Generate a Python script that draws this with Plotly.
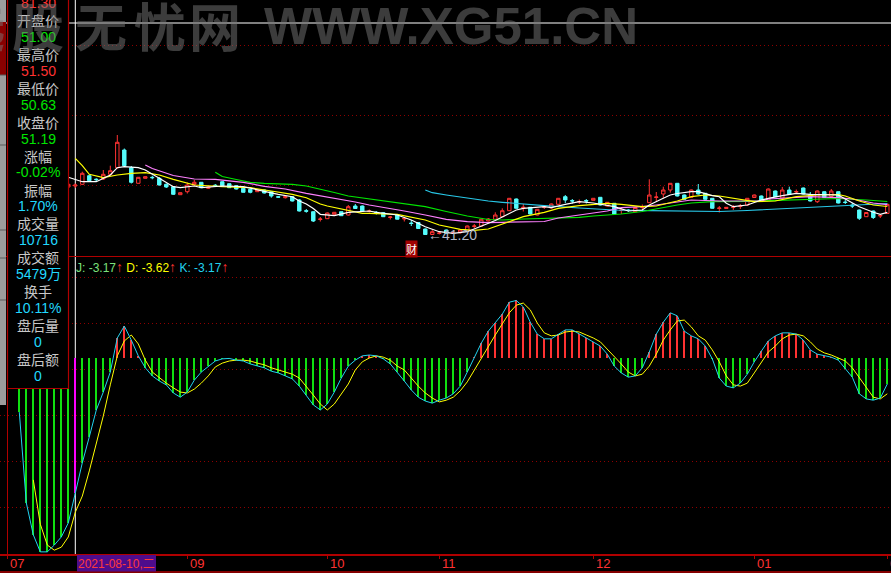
import plotly.graph_objects as go

W, H = 891, 573

def px(x):
    return x / W

def py(y):
    return 1 - y / H

# ---------------- data ----------------
candle_idx = list(range(7, 125))
open_ = [50.8, 51.00, 51.34, 53.06, 52.36, 52.4, 53.34, 54.66, 58.2, 54.66,
         51.54, 52.54, 52.74, 52.54, 51.34, 50.86, 49.26, 49.86, 51.34, 51.74,
         50.54, 51.16, 51.86, 51.46, 51.06, 50.54, 50.34, 49.86, 50.2, 49.86,
         48.86, 48.66, 48.86, 48.2, 46.06, 45.86, 44.3, 44.46, 45.34, 45.86,
         45.2, 47.0, 47.0, 45.9, 45.75, 45.66, 44.7, 45.2, 44.4, 43.6,
         43.7, 42.4, 41.3, 41.5, 42.2, 41.5, 41.66, 42.06, 42.9, 43.0,
         44.0, 44.34, 44.86, 46.06, 48.4, 46.6, 46.74, 45.2, 46.7, 46.6,
         47.34, 48.86, 48.1, 47.8, 48.1, 48.14, 48.74, 47.0, 47.54, 46.1,
         46.2, 45.86, 46.7, 47.66, 48.7, 49.4, 50.2, 51.54, 49.2, 48.74,
         50.2, 49.54, 48.54, 46.5, 46.5, 46.7, 46.9, 47.2, 48.7, 49.0,
         48.2, 50.0, 48.6, 50.2, 49.8, 50.6, 49.2, 47.86, 49.86, 48.9,
         49.86, 47.8, 47.2, 46.2, 44.86, 46.0, 45.0, 45.5]
high_ = [51.5, 51.50, 53.86, 53.3, 52.54, 54.2, 55.06, 61.2, 58.5, 55.0,
         52.8, 52.9, 53.06, 52.8, 51.5, 51.0, 49.7, 51.7, 52.2, 51.8,
         50.9, 51.4, 51.9, 51.5, 51.1, 50.6, 50.4, 50.25, 50.3, 49.9,
         49.0, 49.0, 48.9, 48.4, 46.4, 45.9, 44.8, 45.7, 45.8, 45.9,
         47.2, 47.4, 47.1, 46.3, 46.0, 45.8, 45.0, 45.3, 44.8, 44.2,
         43.8, 42.5, 42.34, 41.9, 42.3, 42.0, 42.3, 43.1, 43.4, 44.4,
         44.6, 45.74, 46.54, 48.6, 48.5, 47.4, 46.8, 46.4, 47.2, 47.5,
         48.6, 49.2, 48.4, 48.3, 48.4, 48.6, 48.8, 47.8, 47.6, 46.6,
         46.4, 46.8, 47.3, 52.34, 49.8, 50.86, 51.6, 51.6, 49.3, 50.3,
         51.4, 49.6, 48.6, 47.0, 46.8, 47.2, 47.4, 48.6, 49.3, 49.1,
         50.5, 50.1, 50.8, 50.86, 50.3, 50.7, 49.8, 50.1, 49.9, 50.4,
         49.9, 48.3, 47.6, 46.3, 45.8, 46.1, 45.4, 47.5]
low_ = [50.6, 50.63, 51.2, 51.9, 51.86, 52.2, 53.06, 54.5, 54.9, 51.5,
        51.5, 52.5, 52.34, 51.1, 50.6, 49.2, 49.2, 49.5, 51.06, 50.6,
        50.4, 50.9, 51.0, 50.6, 50.3, 49.7, 49.54, 49.8, 49.5, 48.66,
        48.6, 48.5, 47.9, 45.9, 45.66, 43.8, 43.9, 44.4, 45.3, 45.0,
        45.1, 46.4, 45.9, 45.7, 45.3, 44.8, 44.3, 44.3, 43.9, 43.0,
        42.4, 41.2, 41.25, 41.3, 41.4, 41.4, 41.5, 42.0, 42.6, 42.9,
        43.9, 44.2, 44.8, 46.0, 46.5, 45.9, 45.3, 45.1, 46.4, 46.5,
        47.3, 47.6, 47.5, 47.4, 47.5, 48.1, 47.1, 46.9, 45.3, 45.4,
        45.8, 45.8, 45.9, 47.6, 47.9, 48.54, 49.66, 48.9, 48.3, 48.7,
        49.3, 48.3, 46.5, 45.7, 46.4, 46.2, 46.4, 47.0, 48.6, 48.0,
        48.1, 48.8, 48.5, 49.2, 49.4, 49.3, 47.9, 47.6, 48.6, 48.8,
        47.5, 47.4, 46.6, 44.2, 44.8, 44.4, 44.6, 45.4]
close_ = [51.34, 51.19, 53.54, 52.06, 52.26, 53.34, 54.06, 59.74, 55.06, 51.74,
          52.74, 52.86, 52.66, 51.2, 50.8, 49.34, 49.66, 51.2, 51.74, 50.66,
          50.8, 51.06, 51.06, 50.66, 50.4, 49.74, 49.74, 50.2, 49.6, 49.0,
          48.76, 48.86, 48.0, 46.0, 45.96, 44.0, 44.4, 45.6, 45.74, 45.06,
          46.86, 46.5, 46.0, 46.0, 45.65, 44.86, 44.8, 44.36, 44.5, 43.5,
          42.5, 41.3, 41.86, 41.6, 41.54, 41.7, 42.2, 43.0, 43.0, 44.34,
          44.4, 45.2, 46.06, 48.54, 46.54, 46.74, 45.4, 46.34, 46.8, 47.4,
          48.54, 48.2, 48.0, 47.9, 48.0, 48.54, 47.2, 47.74, 45.4, 46.2,
          46.1, 46.7, 46.8, 49.2, 48.8, 50.2, 51.54, 49.0, 48.34, 50.2,
          49.4, 48.34, 46.54, 46.6, 46.74, 46.8, 47.0, 48.54, 49.2, 48.1,
          50.4, 48.86, 50.2, 49.3, 49.9, 49.4, 48.0, 50.0, 48.7, 50.0,
          47.6, 47.7, 47.0, 44.54, 45.7, 44.7, 45.1, 47.34]

ma5_idx = [7, 9, 11, 13, 14, 15, 17, 18, 20, 22, 23, 25, 26, 29, 32, 34, 37, 39, 40, 41,
           42, 43, 45, 47, 50, 51, 54, 56, 58, 60, 62, 64, 66, 68, 69, 71, 72, 75, 76, 78,
           80, 82, 85, 87, 89, 90, 92, 93, 94, 96, 97, 99, 100, 101, 102, 104, 106, 107, 109, 111,
           113, 115, 117, 118, 120, 122, 123, 124]
ma5 = [52.74, 51.86, 51.86, 53.2, 54.66, 54.86, 54.66, 54.2, 52.54, 50.86, 50.66, 51.0, 50.66, 51.0, 50.86, 50.2, 49.34, 48.86, 48.0, 47.4,
       46.5, 45.34, 45.06, 45.74, 46.0, 45.74, 45.2, 44.2, 42.86, 41.86, 41.54, 41.86, 42.9, 44.1, 44.8, 46.2, 46.54, 46.86, 46.66, 47.34,
       47.86, 47.6, 46.86, 46.0, 46.2, 47.2, 48.54, 49.2, 49.5, 49.86, 49.86, 49.06, 48.86, 47.54, 46.86, 47.2, 48.2, 48.54, 49.06, 49.54,
       49.34, 49.2, 49.2, 48.4, 46.86, 45.74, 45.34, 45.74]

ma10_idx = [8, 9, 10, 12, 14, 16, 18, 20, 22, 25, 29, 33, 36, 39, 41, 43, 44, 47, 49, 50,
            54, 58, 60, 63, 65, 67, 69, 72, 75, 77, 80, 84, 86, 89, 91, 94, 96, 98, 100, 102,
            105, 108, 111, 114, 117, 118, 120, 122, 124]
ma10 = [56.54, 55.06, 53.34, 52.66, 53.2, 53.54, 53.66, 53.2, 52.34, 51.2, 50.86, 50.66, 50.0, 49.34, 48.66, 47.4, 47.0, 46.2, 45.54, 45.54,
        45.34, 44.2, 43.2, 42.34, 42.14, 42.4, 43.4, 44.86, 45.74, 46.54, 47.06, 47.54, 47.34, 46.86, 47.0, 48.0, 48.86, 49.2, 49.0, 48.54,
        47.86, 48.0, 48.86, 49.2, 49.3, 49.0, 48.0, 47.2, 46.9]

ma20_idx = [18, 19, 22, 25, 28, 30, 32, 35, 38, 41, 43, 46, 48, 50, 52, 55, 58, 61, 64, 67,
            69, 72, 75, 77, 79, 81, 84, 86, 89, 91, 94, 96, 100, 106, 107, 110, 113, 117, 119, 122, 124]
ma20 = [55.2, 54.5, 53.1, 52.4, 52.34, 52.06, 51.74, 50.94, 50.4, 49.54, 49.06, 48.2, 47.8, 47.2, 46.74, 46.0, 45.2, 44.34, 43.86, 43.66,
        43.74, 43.86, 43.9, 44.6, 45.0, 45.34, 46.0, 46.66, 46.86, 47.2, 47.74, 48.2, 48.0, 48.0, 48.4, 48.66, 48.86, 48.66, 48.4, 47.6, 47.26]

ma30_idx = [28, 29, 31, 33, 35, 39, 41, 43, 45, 47, 50, 52, 55, 58, 61, 64, 67, 69, 72, 75,
            80, 82, 86, 89, 92, 94, 96, 99, 104, 109, 113, 117, 121, 124]
ma30 = [53.74, 52.9, 52.3, 51.74, 51.54, 51.34, 51.0, 50.4, 49.7, 49.0, 48.4, 48.0, 47.54, 46.86, 45.9, 45.0, 44.3, 44.2, 44.4, 44.54,
        44.74, 45.0, 45.4, 45.9, 46.7, 47.2, 47.6, 47.86, 47.94, 48.2, 48.34, 48.5, 48.2, 47.9]

ma60_idx = [58, 59, 61, 64, 67, 69, 72, 75, 80, 85, 90, 95, 100, 104, 108, 112, 116, 119, 122, 124]
ma60 = [50.2, 49.66, 49.2, 48.54, 48.0, 47.74, 47.34, 47.06, 46.6, 46.2, 46.06, 46.0, 45.9, 46.1, 46.4, 46.66, 46.9, 47.2, 47.4, 47.5]

k_idx = list(range(0, 125))
k_vals = [-1.27, -3.40, -4.15, -4.55, -4.55, -4.39, -4.20, -3.87, -3.17, -2.46,
          -1.85, -1.22, -0.80, -0.33, 0.47, 0.75, 0.42, 0.05, -0.23, -0.42,
          -0.54, -0.63, -0.82, -0.92, -0.80, -0.52, -0.33, -0.19, -0.07, -0.02,
          -0.01, -0.05, -0.07, -0.14, -0.19, -0.23, -0.31, -0.35, -0.42, -0.49,
          -0.66, -0.87, -1.10, -1.22, -1.08, -0.80, -0.47, -0.19, -0.05, 0.05,
          0.07, 0.05, -0.02, -0.14, -0.33, -0.54, -0.75, -0.92, -1.01, -1.06,
          -0.99, -0.94, -0.84, -0.66, -0.33, 0.01, 0.35, 0.63, 0.82, 1.03,
          1.31, 1.35, 1.20, 0.84, 0.56, 0.45, 0.45, 0.56, 0.66, 0.66,
          0.56, 0.47, 0.38, 0.28, 0.09, -0.19, -0.35, -0.45, -0.42, -0.23,
          0.14, 0.56, 0.84, 1.06, 0.99, 0.63, 0.52, 0.45, 0.28, -0.02,
          -0.47, -0.66, -0.70, -0.59, -0.38, -0.09, 0.16, 0.40, 0.52, 0.59,
          0.59, 0.56, 0.42, 0.19, 0.09, 0.05, 0.02, -0.05, -0.26, -0.45,
          -0.84, -0.96, -0.99, -0.94, -0.61]

d_idx = list(range(2, 125))
d_vals = [-2.86, -3.90, -4.39, -4.51, -4.44, -4.20, -3.62, -3.24, -2.65, -2.00,
          -1.36, -0.63, 0.05, 0.40, 0.54, 0.33, -0.05, -0.33, -0.47, -0.59,
          -0.70, -0.80, -0.82, -0.73, -0.59, -0.42, -0.21, -0.12, -0.07, -0.05,
          -0.05, -0.07, -0.12, -0.16, -0.23, -0.28, -0.33, -0.38, -0.47, -0.66,
          -0.87, -1.08, -1.22, -1.08, -0.84, -0.61, -0.28, -0.09, 0.00, 0.05,
          0.02, -0.05, -0.19, -0.28, -0.47, -0.66, -0.82, -0.94, -1.03, -0.99,
          -0.92, -0.77, -0.56, -0.28, 0.00, 0.28, 0.54, 0.80, 1.06, 1.24,
          1.29, 1.13, 0.82, 0.59, 0.52, 0.54, 0.61, 0.63, 0.61, 0.54,
          0.47, 0.38, 0.21, 0.05, -0.14, -0.33, -0.42, -0.38, -0.19, 0.09,
          0.42, 0.66, 0.87, 0.89, 0.73, 0.52, 0.42, 0.19, -0.09, -0.42,
          -0.63, -0.66, -0.59, -0.35, -0.12, 0.14, 0.28, 0.45, 0.54, 0.56,
          0.52, 0.38, 0.21, 0.12, 0.07, 0.00, -0.07, -0.23, -0.47, -0.68,
          -0.92, -0.96, -0.84]

cursor_idx = 8
cursor_date = "2021-08-10,二"
low_idx, low_val = 58, 41.20
cai_idx = 56

month_pos = [-1.7, 24, 44, 60, 82, 105, 124]
month_text = ["07", "09", "10", "11", "12", "01", "02"]

info_labels = ["开盘价", "最高价", "最低价", "收盘价", "涨幅", "振幅", "成交量", "成交额", "换手", "盘后量", "盘后额"]
info_values = ["51.00", "51.50", "50.63", "51.19", "-0.02%", "1.70%", "10716", "5479万", "10.11%", "0", "0"]
info_colors = ["#00E600", "#FF3232", "#00E600", "#00E600", "#00E600", "#20D8FF", "#20D8FF", "#20D8FF", "#20D8FF", "#20D8FF", "#20D8FF"]

kdj_title = [("J: -3.17", "#7CE07C"), ("↑", "#FF3232"), (" D: -3.62", "#FFFF00"), ("↑", "#FF3232"),
             (" K: -3.17", "#22D3F0"), ("↑", "#FF3232")]

# axis set-up (derived from panel geometry)
X_RANGE = [-2.757, 124.53]
PRICE_RANGE = [37.0, 88.2]
KDJ_RANGE = [-4.60, 2.394]
price_grid = [51.2, 65.2, 79.2]
kdj_grid = [1.90, 0.82, -0.26, -1.34, -2.42, -3.50]

RED = "#FF3232"
CYAN_C = "#54FCFC"
LINE_RED = "#B00000"
GRID_RED = "#8E0000"

fig = go.Figure()

# ---------------- main panel ----------------
fig.add_trace(go.Candlestick(
    x=candle_idx, open=open_, high=high_, low=low_, close=close_,
    increasing=dict(line=dict(color=RED, width=1), fillcolor="#000000"),
    decreasing=dict(line=dict(color=CYAN_C, width=1), fillcolor=CYAN_C),
    whiskerwidth=0, showlegend=False, hoverinfo="skip",
    xaxis="x", yaxis="y"))

for xs, ys, col in [(ma60_idx, ma60, "#28C8E8"), (ma30_idx, ma30, "#00E600"),
                    (ma20_idx, ma20, "#FF80FF"), (ma10_idx, ma10, "#FFFF00"),
                    (ma5_idx, ma5, "#FFFFFF")]:
    fig.add_trace(go.Scatter(x=xs, y=ys, mode="lines", line=dict(color=col, width=1.2),
                             showlegend=False, hoverinfo="skip", xaxis="x", yaxis="y"))

# ---------------- KDJ panel ----------------
up_x = [i for i, v in zip(k_idx, k_vals) if v >= 0 and i != cursor_idx]
up_y = [v for i, v in zip(k_idx, k_vals) if v >= 0 and i != cursor_idx]
dn_x = [i for i, v in zip(k_idx, k_vals) if v < 0 and i != cursor_idx]
dn_y = [v for i, v in zip(k_idx, k_vals) if v < 0 and i != cursor_idx]
cur_y = [v for i, v in zip(k_idx, k_vals) if i == cursor_idx]

for xs, ys, col in [(up_x, up_y, "#FF3232"), (dn_x, dn_y, "#10E010"), ([cursor_idx], cur_y, "#FF00FF")]:
    fig.add_trace(go.Bar(x=xs, y=ys, width=0.16, marker=dict(color=col, line=dict(width=0)),
                         showlegend=False, hoverinfo="skip", xaxis="x2", yaxis="y2"))

fig.add_trace(go.Scatter(x=d_idx, y=d_vals, mode="lines", line=dict(color="#FFFF00", width=1),
                         showlegend=False, hoverinfo="skip", xaxis="x2", yaxis="y2"))
fig.add_trace(go.Scatter(x=k_idx, y=k_vals, mode="lines", line=dict(color="#22D3F0", width=1),
                         showlegend=False, hoverinfo="skip", xaxis="x2", yaxis="y2"))

# ---------------- shapes ----------------
shapes = []
# crosshair
shapes.append(dict(type="line", xref="x", yref="paper", x0=cursor_idx, x1=cursor_idx,
                   y0=py(554), y1=1, line=dict(color="#FFFFFF", width=1), layer="below"))
shapes.append(dict(type="line", xref="paper", yref="paper", x0=0, x1=1, y0=py(23), y1=py(23),
                   line=dict(color="#FFFFFF", width=1), layer="below"))
# chart frame
shapes.append(dict(type="line", xref="paper", yref="paper", x0=px(7.5), x1=px(7.5), y0=py(554), y1=1,
                   line=dict(color=LINE_RED, width=1), layer="above"))
shapes.append(dict(type="line", xref="paper", yref="paper", x0=0, x1=1, y0=py(572), y1=py(572),
                   line=dict(color=LINE_RED, width=1.5), layer="above"))
# info box
shapes.append(dict(type="rect", xref="paper", yref="paper", x0=px(7.5), x1=px(68.5), y0=py(388.5), y1=py(-2),
                   fillcolor="#000000", line=dict(color=LINE_RED, width=1.2), layer="above"))
# left window strip
shapes.append(dict(type="rect", xref="paper", yref="paper", x0=0, x1=px(6), y0=py(405), y1=1,
                   fillcolor="#9C9C9C", line=dict(width=0), layer="above"))
shapes.append(dict(type="rect", xref="paper", yref="paper", x0=0, x1=px(6), y0=py(75), y1=py(22),
                   fillcolor="#8A0000", line=dict(width=0), layer="above"))
for yy in [75, 145, 230, 258, 300]:
    shapes.append(dict(type="line", xref="paper", yref="paper", x0=0, x1=px(6), y0=py(yy), y1=py(yy),
                       line=dict(color="#5A5A5A", width=1), layer="above"))
# date box
shapes.append(dict(type="rect", xref="paper", yref="paper", x0=px(77), x1=px(156), y0=py(571.5), y1=py(555),
                   fillcolor="#4E0C8C", line=dict(width=0), layer="above"))

# ---------------- annotations ----------------
ann = []
LAB = "#C8C8C8"
CJK = "Noto Sans CJK SC"
NUM = "Liberation Sans, Arial, Noto Sans CJK SC"
ann.append(dict(xref="paper", yref="paper", x=px(38), y=py(3), text="81.30", showarrow=False,
                font=dict(family=NUM, size=14, color=RED), xanchor="center", yanchor="middle"))
for i, (lab, val, col) in enumerate(zip(info_labels, info_values, info_colors)):
    yl = 20 + 33.9 * i
    ann.append(dict(xref="paper", yref="paper", x=px(38), y=py(yl), text=lab, showarrow=False,
                    font=dict(family=CJK, size=14, color=LAB), xanchor="center", yanchor="middle"))
    ann.append(dict(xref="paper", yref="paper", x=px(38), y=py(yl + 16.8), text=val, showarrow=False,
                    font=dict(family=NUM, size=14, color=col), xanchor="center", yanchor="middle"))

title_html = "".join(
    (f'<span style="color:{c};font-size:14px">{t}</span>' if t == "↑" else f'<span style="color:{c}">{t}</span>')
    for t, c in kdj_title)
ann.append(dict(xref="paper", yref="paper", x=px(74), y=py(267), text=title_html, showarrow=False,
                font=dict(family="Liberation Sans, Arial", size=12), xanchor="left", yanchor="middle"))

for pos, txt in zip(month_pos, month_text):
    ann.append(dict(xref="x2", yref="paper", x=pos, y=py(563), text=txt, showarrow=False, xshift=1,
                    font=dict(family="Liberation Sans, Arial", size=13, color="#FF3232"),
                    xanchor="left", yanchor="middle"))

ann.append(dict(xref="paper", yref="paper", x=px(116.5), y=py(563.5), text=cursor_date, showarrow=False,
                font=dict(family="Liberation Sans, Noto Sans CJK SC", size=12, color="#FF3A3A"),
                xanchor="center", yanchor="middle"))

ann.append(dict(xref="x", yref="y", x=low_idx, y=low_val, text="←41.20", showarrow=False, xshift=1,
                font=dict(family="Liberation Sans, Arial", size=14, color="#B4B8C8"),
                xanchor="left", yanchor="middle"))
ann.append(dict(xref="x", yref="paper", x=cai_idx, y=py(249), text="财", showarrow=False,
                font=dict(family=CJK, size=11, color="#FFFFFF"), bgcolor="#A00000", borderpad=0,
                xanchor="center", yanchor="middle"))

# watermark (drawn over everything, like the site's overlay)
WM = "rgba(120,120,120,0.5)"
wm_chars = "选股无忧网"
wm_centers = [-21, 38, 101, 160, 215]
for ch, cx in zip(wm_chars, wm_centers):
    ann.append(dict(xref="paper", yref="paper", x=px(cx), y=py(24), text=f"<b>{ch}</b>", showarrow=False,
                    font=dict(family=CJK, size=52, color=WM),
                    xanchor="center", yanchor="middle"))
ann.append(dict(xref="paper", yref="paper", x=px(262), y=py(26), text="<b>WWW.XG51.CN</b>", showarrow=False,
                font=dict(family="Liberation Sans, Arial", size=51, color=WM),
                xanchor="left", yanchor="middle"))

grid_dash = "1px,3px"
fig.update_layout(
    width=W, height=H,
    margin=dict(l=0, r=0, t=0, b=0),
    paper_bgcolor="#000000", plot_bgcolor="#000000",
    showlegend=False, bargap=0, barmode="overlay",
    shapes=shapes, annotations=ann,
    xaxis=dict(domain=[0, 1], range=X_RANGE, anchor="y", showgrid=False, zeroline=False,
               showticklabels=False, ticks="", showline=True, linecolor=LINE_RED, linewidth=1,
               rangeslider=dict(visible=False), fixedrange=True),
    yaxis=dict(domain=[py(256), 1], range=PRICE_RANGE, anchor="x", showgrid=True,
               gridcolor=GRID_RED, griddash=grid_dash, gridwidth=1, tickvals=price_grid,
               showticklabels=False, zeroline=False, showline=False, ticks=""),
    xaxis2=dict(domain=[0, 1], range=X_RANGE, anchor="y2", matches="x", showgrid=False, zeroline=False,
                showticklabels=False, showline=True, linecolor=LINE_RED, linewidth=1.5,
                ticks="outside", ticklen=3, tickcolor=LINE_RED, tickvals=month_pos),
    yaxis2=dict(domain=[py(554), py(256)], range=KDJ_RANGE, anchor="x2", showgrid=True,
                gridcolor=GRID_RED, griddash=grid_dash, gridwidth=1, tickvals=kdj_grid,
                showticklabels=False, zeroline=False, showline=False, ticks=""),
)

fig.write_html("out.html", config={"displayModeBar": False},
               post_script="document.body.style.margin='0';document.body.style.overflow='hidden';")
